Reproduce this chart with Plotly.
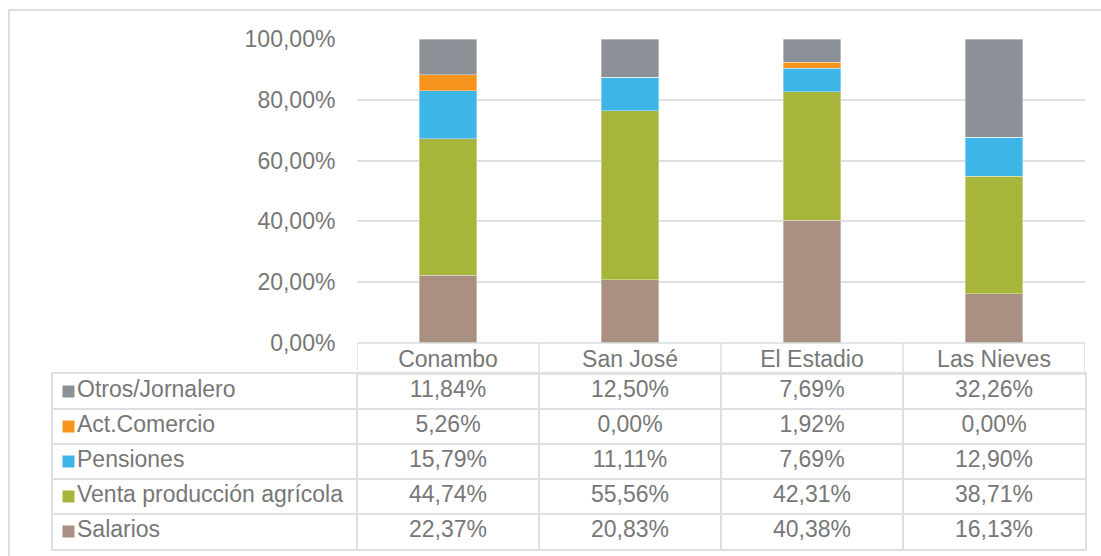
import plotly.graph_objects as go

categories = ["Conambo", "San José", "El Estadio", "Las Nieves"]
salarios = [22.37, 20.83, 40.38, 16.13]
venta = [44.74, 55.56, 42.31, 38.71]
pensiones = [15.79, 11.11, 7.69, 12.90]
comercio = [5.26, 0.00, 1.92, 0.00]
otros = [11.84, 12.50, 7.69, 32.26]

series_names = ["Salarios", "Venta producción agrícola", "Pensiones", "Act.Comercio", "Otros/Jornalero"]
series_values = [salarios, venta, pensiones, comercio, otros]
series_colors = ["#aa9083", "#a7b53a", "#3db5e6", "#f7941e", "#8b9197"]

y_ticks = [0, 20, 40, 60, 80, 100]

FONT = "Liberation Sans, Arial, sans-serif"
FS = 23
TXT = "#777777"
LINE = "#dcdfe3"

W, H = 1101, 556
def px(x):
    return x / W
def py(y):
    return (H - y) / H

def fmt(v):
    return f"{v:.2f}".replace(".", ",") + "%"

n = len(categories)
fig = go.Figure()
for name, vals, col in zip(series_names, series_values, series_colors):
    fig.add_trace(go.Bar(
        x=categories, y=vals, name=name, marker_color=col,
        marker_line=dict(color="rgba(255,255,255,0.6)", width=0.6),
        width=0.315, showlegend=False,
    ))

# ---- data table below the chart (rows top->bottom = reverse of stacking) ----
rows = list(zip(series_names, series_values, series_colors))[::-1]
nrows = len(rows)
COL_PX = 182.0
LABEL_PX = 304.0
left_edge = -0.5 - LABEL_PX / COL_PX

# values
cx, cy, ct = [], [], []
for r, (name, vals, col) in enumerate(rows):
    for c, v in enumerate(vals):
        cx.append(c)
        cy.append(r)
        ct.append(fmt(v))
fig.add_trace(go.Scatter(
    x=cx, y=cy, text=ct, mode="text", xaxis="x2", yaxis="y2",
    textfont=dict(family=FONT, size=FS, color=TXT),
    textposition="middle center", showlegend=False, hoverinfo="skip", cliponaxis=False,
))
# row labels with colour keys
fig.add_trace(go.Scatter(
    x=[left_edge + 15.5 / COL_PX] * nrows, y=list(range(nrows)),
    text=[name for name, v, c in rows], mode="markers+text", xaxis="x2", yaxis="y2",
    marker=dict(symbol="square", size=12, color=[c for name, v, c in rows], line=dict(width=0)),
    textfont=dict(family=FONT, size=FS, color=TXT),
    textposition="middle right", showlegend=False, hoverinfo="skip", cliponaxis=False,
))

shapes = []
# outer border
shapes.append(dict(type="rect", xref="paper", yref="paper",
                   x0=px(9), x1=1.02, y0=-0.02, y1=py(10),
                   line=dict(color=LINE, width=2), fillcolor="rgba(0,0,0,0)", layer="below"))
# header row box for category labels
shapes.append(dict(type="rect", xref="x", yref="paper",
                   x0=-0.5, x1=n - 0.5, y0=py(374), y1=py(343),
                   line=dict(color=LINE, width=1.5)))
for i in range(1, n):
    shapes.append(dict(type="line", xref="x", yref="paper",
                       x0=i - 0.5, x1=i - 0.5, y0=py(374), y1=py(343),
                       line=dict(color=LINE, width=1.5)))

fig.update_layout(
    template="none",
    width=W, height=H,
    barmode="stack",
    margin=dict(l=0, r=0, t=0, b=0, pad=0),
    paper_bgcolor="white", plot_bgcolor="rgba(0,0,0,0)",
    font=dict(family=FONT, size=FS, color=TXT),
    shapes=shapes,
    xaxis=dict(domain=[px(357), px(1085)], range=[-0.5, n - 0.5], automargin=False,
               showgrid=False, showline=False, ticks="", zeroline=False,
               tickfont=dict(family=FONT, size=FS, color=TXT)),
    yaxis=dict(domain=[py(343), py(39)], range=[0, 100], automargin=False,
               tickmode="array", tickvals=y_ticks, ticktext=[fmt(t) for t in y_ticks],
               showgrid=True, gridcolor=LINE, gridwidth=1.5,
               zeroline=False, showline=False,
               ticks="outside", ticklen=16, tickcolor="rgba(0,0,0,0)",
               tickfont=dict(family=FONT, size=FS, color=TXT)),
    xaxis2=dict(domain=[px(53), px(1085)], range=[left_edge, n - 0.5], anchor="y2",
                automargin=False, zeroline=False, showticklabels=False, ticks="",
                tickmode="array", tickvals=[i - 0.5 for i in range(n)],
                showgrid=True, gridcolor=LINE, gridwidth=1.5,
                showline=True, mirror=True, linecolor=LINE, linewidth=1.5),
    yaxis2=dict(domain=[py(549), py(374)], range=[nrows - 0.5, -0.5], anchor="x2",
                automargin=False, zeroline=False, showticklabels=False, ticks="",
                tickmode="array", tickvals=[r + 0.5 for r in range(nrows - 1)],
                showgrid=True, gridcolor=LINE, gridwidth=1.5,
                showline=True, mirror=True, linecolor=LINE, linewidth=1.5),
)

fig.write_html("out.html", config={"displayModeBar": False},
               post_script="document.body.style.margin='0px';")
